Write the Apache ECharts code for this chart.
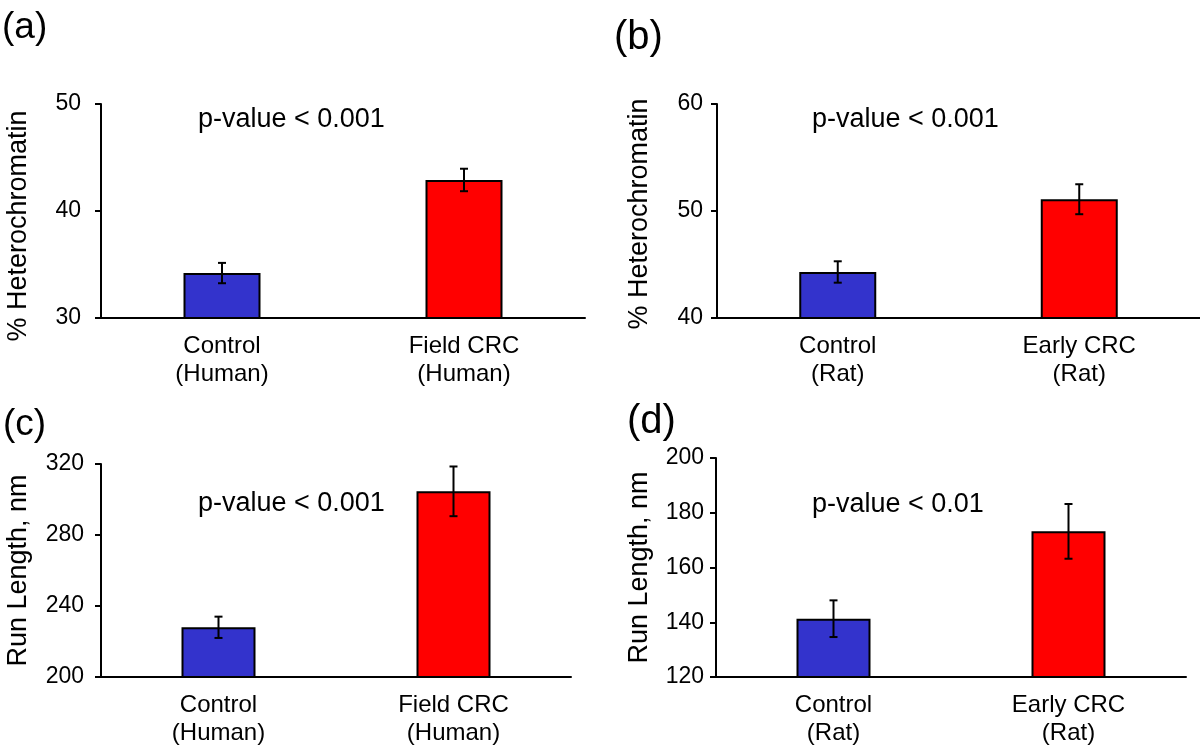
<!DOCTYPE html>
<html>
<head>
<meta charset="utf-8">
<script src="https://cdn.jsdelivr.net/npm/echarts@6/dist/echarts.min.js"></script>
<style>
  html, body { margin: 0; padding: 0; background: #fff; }
  #chart { width: 1200px; height: 747px; }
</style>
</head>
<body>
<div id="chart"></div>
<script>
var myChart = echarts.init(document.getElementById('chart'));

// categories
var catHuman = ['Control\n(Human)', 'Field CRC\n(Human)'];
var catRat = ['Control\n(Rat)', 'Early CRC\n(Rat)'];

// means and error (half-length of error bar)
var meanA = [34.2, 42.9];
var errA = [0.95, 1.05];
var meanB = [44.3, 51.1];
var errB = [1.0, 1.4];
var meanC = [228, 304.6];
var errC = [6, 14];
var meanD = [141.3, 173.2];
var errD = [6.7, 10];

// axis ranges [min, max, interval]
var rangeA = [30, 50, 10];
var rangeB = [40, 60, 10];
var rangeC = [200, 320, 40];
var rangeD = [120, 200, 20];

var yNames = ['% Heterochromatin', '% Heterochromatin', 'Run Length, nm', 'Run Length, nm'];
var pTexts = ['p-value < 0.001', 'p-value < 0.001', 'p-value < 0.001', 'p-value < 0.01'];
var panelTags = ['(a)', '(b)', '(c)', '(d)'];

var barColors = ['#3333CC', '#FF0000'];
var FONT = '"Liberation Sans", Arial, Helvetica, sans-serif';

function errorData(means, errs) {
    return means.map(function (m, i) { return [i, m - errs[i], m + errs[i]]; });
}

function renderError(params, api) {
    var x = api.value(0);
    var lo = api.coord([x, api.value(1)]);
    var hi = api.coord([x, api.value(2)]);
    var cap = 4;
    var st = { stroke: '#000', lineWidth: 2 };
    return {
        type: 'group',
        children: [
            { type: 'line', shape: { x1: hi[0], y1: hi[1], x2: lo[0], y2: lo[1] }, style: st },
            { type: 'line', shape: { x1: hi[0] - cap, y1: hi[1], x2: hi[0] + cap, y2: hi[1] }, style: st },
            { type: 'line', shape: { x1: lo[0] - cap, y1: lo[1], x2: lo[0] + cap, y2: lo[1] }, style: st }
        ]
    };
}

// layout of each panel
var panels = [
    { cats: catHuman, mean: meanA, err: errA, range: rangeA, grid: { left: 101, top: 104, width: 484, height: 214 }, barW: 77, labelMargin: 20, nameGap: 69, namePad: [0, 30, 0, 0], pPos: [198, 120], tagPos: [2, 28], tagSize: 37 },
    { cats: catRat, mean: meanB, err: errB, range: rangeB, grid: { left: 717, top: 104, width: 484, height: 214 }, barW: 77, labelMargin: 14, nameGap: 64, namePad: [0, 6, 0, 0], pPos: [812, 120], tagPos: [614, 38], tagSize: 40 },
    { cats: catHuman, mean: meanC, err: errC, range: rangeC, grid: { left: 101, top: 464, width: 470, height: 215 }, barW: 74, labelMargin: 17, nameGap: 69, namePad: 0, pPos: [198, 504], tagPos: [3, 425], tagSize: 37 },
    { cats: catRat, mean: meanD, err: errD, range: rangeD, grid: { left: 716, top: 458, width: 470, height: 221 }, barW: 74, labelMargin: 12, nameGap: 63, namePad: 0, pPos: [812, 505], tagPos: [627, 422], tagSize: 40 }
];

var grids = [], xAxes = [], yAxes = [], series = [], graphics = [];

panels.forEach(function (p, i) {
    grids.push(p.grid);
    xAxes.push({
        type: 'category',
        gridIndex: i,
        data: p.cats,
        axisLine: { lineStyle: { color: '#000', width: 2 } },
        axisTick: { show: false },
        axisLabel: { color: '#000', fontFamily: FONT, fontSize: 24, lineHeight: 28, margin: 14, interval: 0 }
    });
    yAxes.push({
        type: 'value',
        gridIndex: i,
        min: p.range[0],
        max: p.range[1],
        interval: p.range[2],
        name: yNames[i],
        nameLocation: 'middle',
        nameGap: p.nameGap,
        nameTextStyle: { color: '#000', fontFamily: FONT, fontSize: 27, padding: p.namePad },
        axisLine: { show: true, lineStyle: { color: '#000', width: 2 } },
        axisTick: { show: true, length: 6, lineStyle: { color: '#000', width: 2 } },
        axisLabel: { color: '#000', fontFamily: FONT, fontSize: 23, margin: p.labelMargin },
        splitLine: { show: false }
    });
    series.push({
        type: 'bar',
        xAxisIndex: i,
        yAxisIndex: i,
        barWidth: p.barW,
        data: p.mean.map(function (v, k) {
            return { value: v, itemStyle: { color: barColors[k] } };
        }),
        itemStyle: { borderColor: '#000', borderWidth: 2 },
        silent: true
    });
    series.push({
        type: 'custom',
        xAxisIndex: i,
        yAxisIndex: i,
        data: errorData(p.mean, p.err),
        encode: { x: 0, y: [1, 2] },
        renderItem: renderError,
        clip: false,
        z: 5,
        silent: true
    });
    graphics.push({
        type: 'text',
        x: p.pPos[0],
        y: p.pPos[1],
        style: { text: pTexts[i], fill: '#000', font: '27px ' + FONT, textVerticalAlign: 'middle' }
    });
    graphics.push({
        type: 'text',
        x: p.tagPos[0],
        y: p.tagPos[1],
        style: { text: panelTags[i], fill: '#000', font: p.tagSize + 'px ' + FONT, textVerticalAlign: 'middle' }
    });
});

var option = {
    animation: false,
    backgroundColor: '#fff',
    grid: grids,
    xAxis: xAxes,
    yAxis: yAxes,
    series: series,
    graphic: graphics
};

myChart.setOption(option);
</script>
</body>
</html>
